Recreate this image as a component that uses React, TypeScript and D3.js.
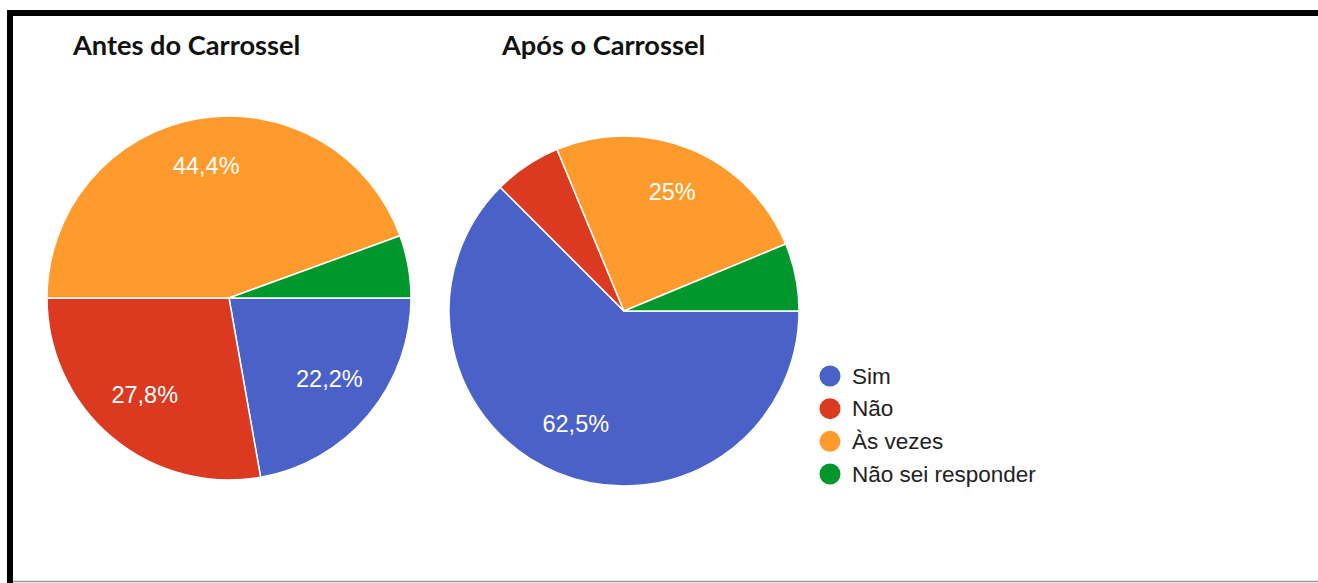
import React from "react";
import * as d3 from "d3";

const categories = ["Sim", "Não", "Às vezes", "Não sei responder"];
const colors = ["#4a62c8", "#db3a20", "#fe9b2c", "#00972c"];
const beforeValues = [4, 5, 8, 1];
const afterValues = [10, 1, 4, 1];
const beforeLabels = ["22,2%", "27,8%", "44,4%", ""];
const afterLabels = ["62,5%", "", "25%", ""];
const titles = ["Antes do Carrossel", "Após o Carrossel"];

const W = 1318;
const H = 583;

type PieProps = {
  values: number[];
  labels: string[];
  cx: number;
  cy: number;
  r: number;
};

function Pie({ values, labels, cx, cy, r }: PieProps) {
  const pie = d3
    .pie<number>()
    .sort(null)
    .startAngle(Math.PI / 2)
    .endAngle(Math.PI / 2 + 2 * Math.PI);
  const arcs = pie(values);
  const arc = d3.arc<d3.PieArcDatum<number>>().innerRadius(0).outerRadius(r);
  const labelArc = d3
    .arc<d3.PieArcDatum<number>>()
    .innerRadius(r * 0.72)
    .outerRadius(r * 0.72);
  return (
    <g transform={`translate(${cx},${cy})`}>
      {arcs.map((a, i) => (
        <path key={i} d={arc(a) || ""} fill={colors[i]} stroke="#ffffff" strokeWidth={1.5} />
      ))}
      {arcs.map((a, i) => {
        if (!labels[i]) return null;
        const [x, y] = labelArc.centroid(a);
        return (
          <text
            key={"l" + i}
            x={x}
            y={y - 3}
            textAnchor="middle"
            dominantBaseline="central"
            fill="#ffffff"
            fontFamily="'Liberation Sans', Arial, sans-serif"
            fontSize={23.5}
          >
            {labels[i]}
          </text>
        );
      })}
    </g>
  );
}

export default function App() {
  const legendY = d3
    .scalePoint<string>()
    .domain(categories)
    .range([376, 474]);
  return (
    <svg
      width={W}
      height={H}
      style={{ position: "absolute", left: 0, top: 0, background: "#ffffff" }}
    >
      <rect x={0} y={0} width={W} height={H} fill="#ffffff" />
      <path d={`M10,${H} L10,13 L${W},13`} fill="none" stroke="#000000" strokeWidth={6} />
      <line x1={13} x2={W} y1={581.5} y2={581.5} stroke="#9a9a9a" strokeWidth={1.5} />
      <text
        x={73}
        y={55}
        fontFamily="Lato, 'Open Sans', sans-serif"
        fontWeight={700}
        fontSize={27.2}
        fill="#111111"
      >
        {titles[0]}
      </text>
      <text
        x={502}
        y={55}
        fontFamily="Lato, 'Open Sans', sans-serif"
        fontWeight={700}
        fontSize={27.2}
        fill="#111111"
      >
        {titles[1]}
      </text>
      <Pie values={beforeValues} labels={beforeLabels} cx={229} cy={298} r={182} />
      <Pie values={afterValues} labels={afterLabels} cx={624} cy={311} r={175} />
      {categories.map((c, i) => (
        <g key={c} transform={`translate(830,${legendY(c)})`}>
          <circle r={10.5} fill={colors[i]} />
          <text
            x={22}
            y={0}
            dominantBaseline="central"
            fontFamily="'Liberation Sans', Arial, sans-serif"
            fontSize={22.5}
            fill="#222222"
          >
            {c}
          </text>
        </g>
      ))}
    </svg>
  );
}
